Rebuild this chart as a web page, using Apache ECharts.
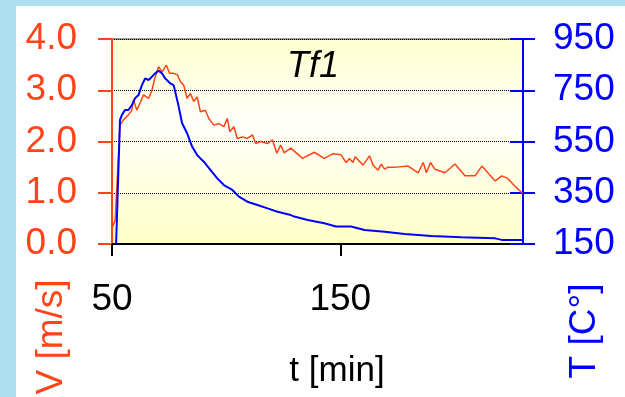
<!DOCTYPE html>
<html><head><meta charset="utf-8">
<script src="https://cdn.jsdelivr.net/npm/echarts@6/dist/echarts.min.js"></script>
<style>
html,body{margin:0;padding:0;background:#ADDFF0;overflow:hidden;}
#panel{position:absolute;left:16px;top:6px;width:609px;height:391px;background:#fff;}
#chart{position:absolute;left:0;top:0;width:625px;height:397px;}
</style></head><body>
<div id="panel"></div><div id="chart"></div>
<script>
// Velocity series (t [min], V [m/s])
const timeV = [50.0,51.4,53.5,55.0,57.2,58.7,59.4,60.9,62.3,63.8,66.0,67.5,68.9,70.4,71.9,73.8,75.2,77.0,78.7,79.9,81.4,82.9,84.3,85.8,87.3,88.7,90.9,92.4,94.6,96.8,99.0,100.5,101.6,103.4,104.9,107.1,109.3,111.5,112.9,115.1,118.1,120.3,122.2,123.9,125.4,128.3,133.5,138.6,143.0,146.7,150.3,152.5,154.0,155.5,156.5,159.9,162.8,164.3,166.5,167.9,169.4,170.9,174.5,179.7,184.1,186.3,187.7,189.5,191.4,195.8,200.2,204.6,209.0,212.0,217.8,220.7,223.3,226.6,229.8];
const velocity = [0.31,0.47,2.32,2.42,2.52,2.61,2.81,2.61,2.75,2.91,2.84,3.00,3.26,3.46,3.36,3.49,3.33,3.33,3.30,3.17,3.10,2.84,2.94,2.78,2.87,2.58,2.61,2.45,2.32,2.35,2.29,2.45,2.19,2.29,2.06,2.09,2.06,2.13,1.96,2.00,1.96,2.03,1.77,1.93,1.78,1.87,1.67,1.79,1.67,1.76,1.74,1.59,1.67,1.59,1.70,1.54,1.72,1.54,1.44,1.56,1.46,1.50,1.50,1.52,1.39,1.59,1.39,1.59,1.46,1.39,1.56,1.33,1.33,1.52,1.23,1.33,1.28,1.12,0.99];
// Temperature series (t [min], T [C°])
const timeT = [51.8,53.5,54.3,55.7,57.2,58.7,60.1,61.6,63.1,64.5,66.0,67.5,68.9,70.4,71.9,73.3,75.5,77.0,78.2,79.2,80.7,82.9,85.1,87.3,90.2,93.1,96.1,99.0,102.7,105.6,109.3,113.7,118.1,122.5,128.3,129.8,135.7,143.0,148.1,154.7,160.6,169.4,178.2,189.9,203.1,217.8,220.7,230.0];
const temperature = [150,634,653,673,673,692,719,731,770,796,790,803,816,826,816,796,777,770,725,686,621,582,530,497,471,439,406,380,361,335,315,302,289,276,263,257,244,231,218,218,205,198,189,181,176,172,166,166];
const xTicks = [50, 150];
const vTicks = {min: 0, max: 4, interval: 1};
const tTicks = {min: 150, max: 950, interval: 200};

const ORANGE = '#FF4419';
const BLUE = '#0000FF';
const FONT = 'Liberation Sans, Arial, sans-serif';

const chart = echarts.init(document.getElementById('chart'), null, {renderer: 'canvas'});
chart.setOption({
  animation: false,
  backgroundColor: 'transparent',
  grid: {
    left: 112, right: 102, top: 39, bottom: 153, show: true,
    borderColor: '#999', borderWidth: 2,
    backgroundColor: new echarts.graphic.LinearGradient(0, 0, 0, 1, [
      {offset: 0, color: '#FFFFCE'},
      {offset: 0.42, color: '#FFFFFB'},
      {offset: 1, color: '#FFFFC6'}
    ])
  },
  xAxis: {
    type: 'value', min: 50, max: 230,
    axisLine: {lineStyle: {color: '#000', width: 2}},
    axisTick: {customValues: xTicks, length: 12, lineStyle: {color: '#000', width: 2}},
    axisLabel: {customValues: xTicks, color: '#000', fontSize: 37, fontFamily: FONT, margin: 37},
    splitLine: {show: false}
  },
  yAxis: [
    {
      type: 'value', position: 'left', min: vTicks.min, max: vTicks.max, interval: vTicks.interval,
      axisLine: {show: true, lineStyle: {color: ORANGE, width: 2}},
      axisTick: {show: true, length: 14, lineStyle: {color: ORANGE, width: 2}},
      axisLabel: {color: ORANGE, fontSize: 37, fontFamily: FONT, margin: 35, formatter: v => v.toFixed(1)},
      splitLine: {show: true, lineStyle: {color: '#000', type: 'dotted', width: 1}}
    },
    {
      type: 'value', position: 'right', min: tTicks.min, max: tTicks.max, interval: tTicks.interval,
      axisLine: {show: true, lineStyle: {color: BLUE, width: 2}},
      axisTick: {show: true, length: 12, lineStyle: {color: BLUE, width: 2}},
      axisLabel: {color: BLUE, fontSize: 37, fontFamily: FONT, margin: 30},
      splitLine: {show: false}
    },
    {
      type: 'value', position: 'right', min: tTicks.min, max: tTicks.max, interval: tTicks.interval,
      axisLine: {show: false},
      axisTick: {show: true, inside: true, length: 13, lineStyle: {color: BLUE, width: 2}},
      axisLabel: {show: false},
      splitLine: {show: false}
    }
  ],
  series: [
    {
      type: 'line', yAxisIndex: 0, symbol: 'none', z: 3,
      lineStyle: {color: ORANGE, width: 1.5},
      data: timeV.map((t, i) => [t, velocity[i]])
    },
    {
      type: 'line', yAxisIndex: 1, symbol: 'none', z: 4,
      lineStyle: {color: BLUE, width: 2},
      data: timeT.map((t, i) => [t, temperature[i]])
    }
  ],
  graphic: [
    {type: 'text', x: 313, y: 67, z: 10, style: {text: 'Tf1', fill: '#000', fontSize: 36, fontStyle: 'italic', fontFamily: FONT, align: 'center', verticalAlign: 'middle'}},
    {type: 'text', x: 337, y: 371, z: 10, style: {text: 't [min]', fill: '#000', fontSize: 35, fontFamily: FONT, align: 'center', verticalAlign: 'middle'}},
    {type: 'text', x: 52, y: 337, rotation: Math.PI / 2, z: 10, style: {text: 'V [m/s]', fill: ORANGE, fontSize: 37, fontFamily: FONT, align: 'center', verticalAlign: 'middle'}},
    {type: 'text', x: 585, y: 331, rotation: Math.PI / 2, z: 10, style: {text: 'T [C°]', fill: BLUE, fontSize: 37, fontFamily: FONT, align: 'center', verticalAlign: 'middle'}}
  ]
});
</script>
</body></html>
